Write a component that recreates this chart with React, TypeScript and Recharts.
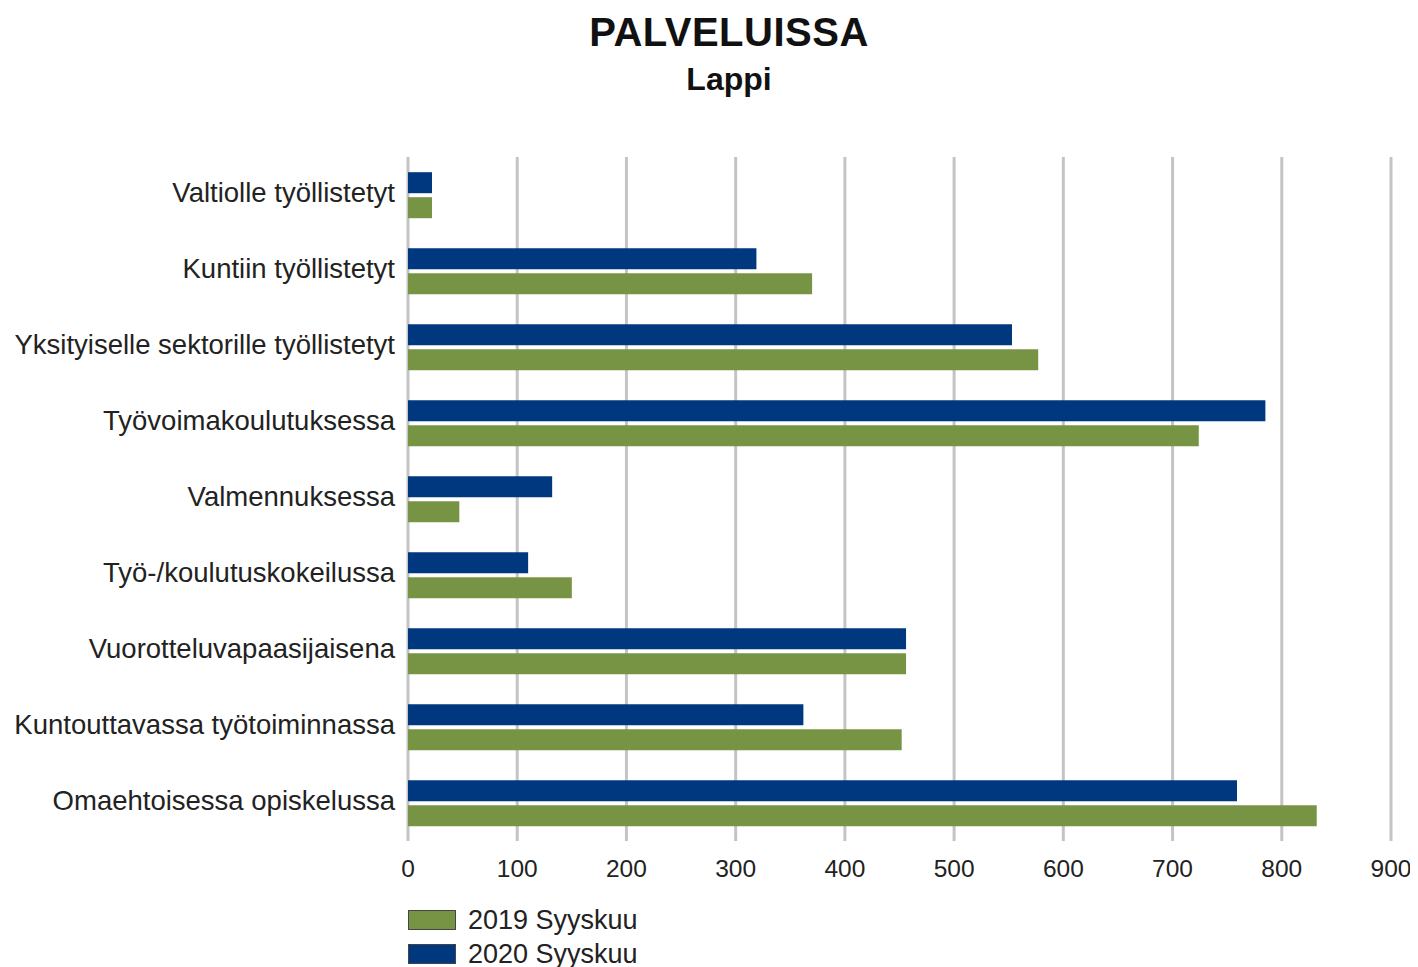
import { BarChart, Bar, XAxis, YAxis, CartesianGrid } from 'recharts';

const categories = [
  'Valtiolle työllistetyt',
  'Kuntiin työllistetyt',
  'Yksityiselle sektorille työllistetyt',
  'Työvoimakoulutuksessa',
  'Valmennuksessa',
  'Työ-/koulutuskokeilussa',
  'Vuorotteluvapaasijaisena',
  'Kuntouttavassa työtoiminnassa',
  'Omaehtoisessa opiskelussa',
];

const sep2019 = [22, 370, 577, 724, 47, 150, 456, 452, 832];
const sep2020 = [22, 319, 553, 785, 132, 110, 456, 362, 759];

const xTicks = [0, 100, 200, 300, 400, 500, 600, 700, 800, 900];

const GREEN = '#779444';
const BLUE = '#00387f';
const FONT = '"Liberation Sans", Arial, sans-serif';

const data = categories.map((name, i) => ({
  name,
  y2019: sep2019[i],
  y2020: sep2020[i],
}));

const legendItems = [
  { label: '2019 Syyskuu', color: GREEN },
  { label: '2020 Syyskuu', color: BLUE },
];

export default function App() {
  return (
    <div style={{ position: 'relative', width: 1402, height: 959, fontFamily: FONT, background: '#fff' }}>
      <div
        style={{
          position: 'absolute',
          left: 0,
          width: 1442,
          top: 2,
          textAlign: 'center',
          fontWeight: 'bold',
          fontSize: 40,
          letterSpacing: 0.5,
          color: '#111',
        }}
      >
        PALVELUISSA
      </div>
      <div
        style={{
          position: 'absolute',
          left: 0,
          width: 1442,
          top: 53,
          textAlign: 'center',
          fontWeight: 'bold',
          fontSize: 32,
          color: '#111',
        }}
      >
        Lappi
      </div>
      <BarChart
        width={1402}
        height={959}
        data={data}
        layout="vertical"
        barCategoryGap="20%"
        barGap={4}
        margin={{ top: 149, right: 19, left: 0, bottom: 96 }}
      >
        <CartesianGrid horizontal={false} stroke="#c4c4c4" strokeWidth={3} />
        <XAxis
          type="number"
          domain={[0, 900]}
          ticks={xTicks}
          axisLine={false}
          tickLine={false}
          tickSize={0}
          tickMargin={19}
          height={30}
          tick={{ fontSize: 24.5, fill: '#222', fontFamily: FONT }}
        />
        <YAxis
          type="category"
          dataKey="name"
          width={400}
          axisLine={false}
          tickLine={false}
          tickSize={0}
          tickMargin={13}
          interval={0}
          tick={{ fontSize: 27.5, fill: '#222', fontFamily: FONT, dy: -3 }}
        />
        <Bar dataKey="y2020" fill={BLUE} isAnimationActive={false} />
        <Bar dataKey="y2019" fill={GREEN} isAnimationActive={false} />
      </BarChart>
      <div style={{ position: 'absolute', left: 400, top: 895 }}>
        {legendItems.map((item) => (
          <div key={item.label} style={{ display: 'flex', alignItems: 'center', height: 34 }}>
            <span
              style={{
                display: 'inline-block',
                width: 46,
                height: 18,
                background: item.color,
                border: '1px solid #444',
                marginRight: 12,
              }}
            />
            <span style={{ fontSize: 27, lineHeight: '30px', color: '#222' }}>{item.label}</span>
          </div>
        ))}
      </div>
    </div>
  );
}
